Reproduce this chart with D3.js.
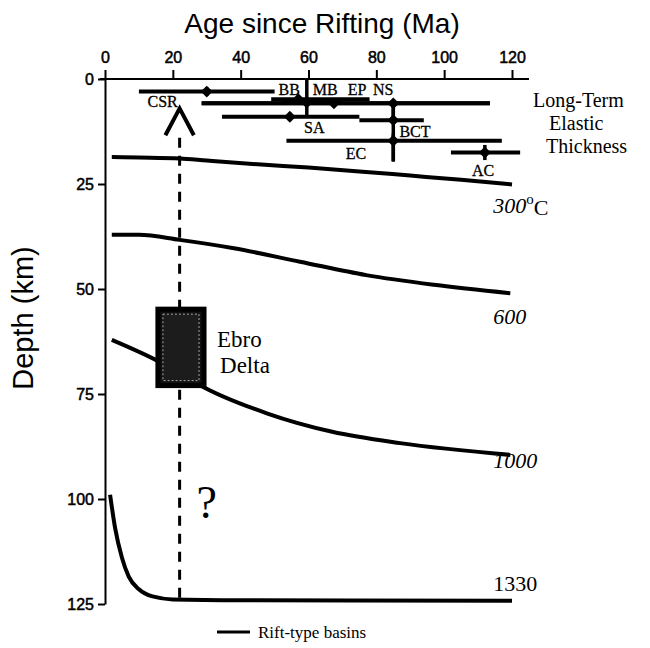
<!DOCTYPE html>
<html>
<head>
<meta charset="utf-8">
<script src="https://cdn.jsdelivr.net/npm/d3@7"></script>
<style>
  body { margin: 0; background: #fff; }
  .serif { font-family: "Liberation Serif", "DejaVu Serif", serif; }
  .sans { font-family: "Liberation Sans", Arial, sans-serif; }
</style>
</head>
<body>
<div class="canvas"></div>
<script>
// Values (age in Ma, depth in km)

const ageTicks = [0, 20, 40, 60, 80, 100, 120];
const depthTicks = [0, 25, 50, 75, 100, 125];

// isotherms
const iso300 = [[2,18.6],[10,18.7],[22,18.9],[30,19.4],[45,20.3],[60,21.1],[75,22],[90,23],[105,24],[120,25.1]];
const iso600 = [[2,37.1],[10,37.1],[22,38.3],[38,40.3],[57.5,43.5],[77,46.7],[97,49],[119.5,51]];
const iso1000 = [[2,62.1],[16,67.3],[22,70],[28,72.9],[47.7,79.6],[67,84],[87,86.7],[119.5,89.5]];
const iso1330 = [[1.5,99],[3,107],[5,114],[7,118.5],[10,121.5],[14,123.2],[20,123.9],[40,124.1],[120,124.2]];
const isoLabels = ["300", "600", "1000", "1330"];
const isoLabelAt = [[114.5,31.8],[114.5,58.3],[114.5,92.5],[114.5,122]];

// elastic thickness estimates: point, age range, depth range
const etNames = ["CSR","BB","MB","EP","NS","SA","BCT","EC","AC"];
const etAge   = [30, 57, 59.5, 67.5, 85, 54.5, 85, 85, 112];
const etDepth = [3, 4.8, 5.6, 5.8, 5.8, 9, 9.8, 14.7, 17.5];
const etAgeLo = [10, 49, 52, 28.5, 28.5, 34.5, 75, 53.5, 102];
const etAgeHi = [50, 78, 70, 113.5, 113.5, 75, 94, 117, 122.4];
const etDepLo = [2, 4, 0, 5, 5, 8, 5.5, 13, 15.7];
const etDepHi = [4, 5.6, 8.6, 6.6, 10, 10, 19.5, 19.7, 19.3];
const etLabelAt = [[17,6.7],[54.3,3.8],[64.9,3.8],[74.3,3.8],[82,3.8],[61.7,12.9],[91.4,13.7],[74,19],[111.5,23]];

// Ebro Delta
const ebroAge = [15.6, 29.2];
const ebroDepth = [54.8, 73];
const ebroAgeLine = 22;
const arrowPts = [[17.8,13.4],[22,7],[26.2,13.4]];

// Set dimensions & margins
const margin = { top: 79, right: 138, bottom: 44, left: 105 };
const width = 650 - margin.left - margin.right;
const height = 648 - margin.top - margin.bottom;

const x = d3.scaleLinear().domain([0, 120]).range([0, width]);
const y = d3.scaleLinear().domain([0, 125]).range([0, height]);

const root = d3.select(".canvas")
  .append("svg")
    .attr("width", 650)
    .attr("height", 648);

const svg = root.append("g")
    .attr("transform", `translate(${margin.left}, ${margin.top})`);

// axes
const xAxis = svg.append("g")
    .call(d3.axisTop(x).tickValues(ageTicks).tickSize(9).tickSizeOuter(0).tickPadding(7));
xAxis.select(".domain").remove();
svg.append("line")
    .attr("x1", x(-1.5)).attr("x2", x(125))
    .attr("y1", 0).attr("y2", 0)
    .attr("stroke", "#000").attr("stroke-width", 2);

const yAxis = svg.append("g")
    .call(d3.axisLeft(y).tickValues(depthTicks).tickSize(7).tickSizeOuter(0).tickPadding(4));

[xAxis, yAxis].forEach(g => {
  g.selectAll("line").attr("stroke-width", 2);
  g.selectAll("path").attr("stroke-width", 2);
  g.selectAll("text")
    .attr("class", "sans")
    .style("font-size", "16px")
    .style("stroke", "#000").style("stroke-width", 0.5)
    .attr("fill", "#000");
});

root.append("text")
    .attr("class", "sans")
    .attr("x", 322).attr("y", 33)
    .attr("text-anchor", "middle")
    .style("font-size", "28px")
    .text("Age since Rifting (Ma)");

root.append("text")
    .attr("class", "sans")
    .attr("transform", "translate(33, 318) rotate(-90)")
    .attr("text-anchor", "middle")
    .style("font-size", "29px")
    .text("Depth (km)");

// isotherm lines
const line = d3.line()
    .x(d => x(d[0]))
    .y(d => y(d[1]))
    .curve(d3.curveMonotoneX);

[iso300, iso600, iso1000, iso1330].forEach(d => {
  svg.append("path")
    .datum(d)
    .attr("fill", "none")
    .attr("stroke", "#000")
    .attr("stroke-width", 4)
    .attr("d", line);
});

isoLabels.forEach((t, i) => {
  const txt = svg.append("text")
    .attr("class", "serif")
    .attr("x", x(isoLabelAt[i][0]))
    .attr("y", y(isoLabelAt[i][1]))
    .style("font-size", "22px")
    .style("font-style", i < 3 ? "italic" : "normal")
    .text(t);
  if (i === 0) {
    txt.append("tspan").attr("dy", -9).style("font-size", "15px").style("font-style", "normal").text("o");
    txt.append("tspan").attr("dy", 11).style("font-style", "normal").text("C");
  }
});

// dashed Ebro line
svg.append("line")
    .attr("x1", x(ebroAgeLine)).attr("x2", x(ebroAgeLine))
    .attr("y1", y(14)).attr("y2", y(124.2))
    .attr("stroke", "#000")
    .attr("stroke-width", 3)
    .attr("stroke-dasharray", "10,8");

svg.append("path")
    .datum(arrowPts)
    .attr("fill", "none")
    .attr("stroke", "#000")
    .attr("stroke-width", 4)
    .attr("d", d3.line().x(d => x(d[0])).y(d => y(d[1])));

// Ebro Delta box
svg.append("rect")
    .attr("x", x(ebroAge[0])).attr("y", y(ebroDepth[0]))
    .attr("width", x(ebroAge[1]) - x(ebroAge[0]))
    .attr("height", y(ebroDepth[1]) - y(ebroDepth[0]))
    .attr("fill", "#111")
    .attr("stroke", "#000")
    .attr("stroke-width", 5);
svg.append("rect")
    .attr("x", x(ebroAge[0]) + 5).attr("y", y(ebroDepth[0]) + 5)
    .attr("width", x(ebroAge[1]) - x(ebroAge[0]) - 10)
    .attr("height", y(ebroDepth[1]) - y(ebroDepth[0]) - 10)
    .attr("fill", "#1c1c1c")
    .attr("stroke", "#aaa")
    .attr("stroke-width", 1)
    .attr("stroke-dasharray", "2,2");

svg.append("text")
    .attr("class", "serif")
    .attr("x", x(ebroAge[1]) + 13).attr("y", y(ebroDepth[0]) + 38)
    .style("font-size", "23px")
    .text("Ebro");
svg.append("text")
    .attr("class", "serif")
    .attr("x", x(ebroAge[1]) + 16).attr("y", y(ebroDepth[0]) + 64)
    .style("font-size", "23px")
    .text("Delta");

svg.append("text")
    .attr("class", "serif")
    .attr("x", x(ebroAgeLine) + 17).attr("y", y(104.5))
    .style("font-size", "46px")
    .text("?");

// elastic thickness error bars
const et = etNames.map((n, i) => ({
  name: n, age: etAge[i], depth: etDepth[i],
  a0: etAgeLo[i], a1: etAgeHi[i], d0: etDepLo[i], d1: etDepHi[i],
  lx: etLabelAt[i][0], ly: etLabelAt[i][1]
}));

const bars = svg.append("g");
bars.selectAll(".hbar").data(et).join("line")
    .attr("x1", d => x(d.a0)).attr("x2", d => x(d.a1))
    .attr("y1", d => y(d.depth)).attr("y2", d => y(d.depth))
    .attr("stroke", "#000").attr("stroke-width", 4);
bars.selectAll(".vbar").data(et).join("line")
    .attr("x1", d => x(d.age)).attr("x2", d => x(d.age))
    .attr("y1", d => y(d.d0)).attr("y2", d => y(d.d1))
    .attr("stroke", "#000").attr("stroke-width", 3.5);
bars.selectAll("path").data(et).join("path")
    .attr("transform", d => `translate(${x(d.age)},${y(d.depth)})`)
    .attr("d", d3.symbol(d3.symbolDiamond2, 90))
    .attr("fill", "#000");

svg.selectAll(".etlab").data(et).join("text")
    .attr("class", "serif")
    .attr("x", d => x(d.lx)).attr("y", d => y(d.ly))
    .attr("text-anchor", "middle")
    .style("font-size", "16px")
    .style("stroke", "#000").style("stroke-width", 0.3)
    .text(d => d.name);

// right-side label
const lt = root.append("text")
    .attr("class", "serif")
    .style("font-size", "20px");
lt.append("tspan").attr("x", 533).attr("y", 107).text("Long-Term");
lt.append("tspan").attr("x", 549).attr("y", 130).text("Elastic");
lt.append("tspan").attr("x", 546).attr("y", 153).text("Thickness");

// legend
root.append("line")
    .attr("x1", 217).attr("x2", 250)
    .attr("y1", 632).attr("y2", 632)
    .attr("stroke", "#000").attr("stroke-width", 3);
root.append("text")
    .attr("class", "serif")
    .attr("x", 258).attr("y", 638)
    .style("font-size", "17px")
    .text("Rift-type basins");
</script>
</body>
</html>
